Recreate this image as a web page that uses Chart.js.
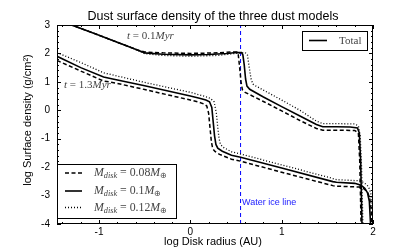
<!DOCTYPE html>
<html>
<head>
<meta charset="utf-8">
<script src="https://cdn.jsdelivr.net/npm/chart.js@4.4.0/dist/chart.umd.min.js"></script>
<style>
  html, body { margin: 0; padding: 0; background: #fff; }
  #wrap { width: 415px; height: 249px; }
</style>
</head>
<body>
<div id="wrap"><canvas id="chart" width="415" height="249"></canvas></div>
<script>
// axes: log r (AU) against log sigma (g/cm^2)
const xTicks = [-1, 0, 1, 2];
const yTicks = [3, 2, 1, 0, -1, -2, -3, -4];
const iceLineR = [0.55, 0.55];
const iceLineSig = [-4, 3];

// t = 0.1 Myr
const early08_r = [-1.46, -1.3, -1.0, -0.7, -0.58, -0.5, -0.3, 0, 0.3, 0.45, 0.51, 0.525, 0.54, 0.555, 0.57, 0.6, 0.8, 1.0, 1.2, 1.38, 1.45, 1.6, 1.8, 1.84, 1.855, 1.87];
const early08_sig = [3.2, 3.0, 2.64, 2.27, 2.12, 2.05, 2.02, 2.0, 2.02, 2.05, 2.05, 1.95, 1.5, 1.0, 0.72, 0.63, 0.31, -0.02, -0.36, -0.64, -0.7, -0.7, -0.71, -0.8, -1.8, -4.1];
const early10_r = [-1.46, -1.3, -1.0, -0.7, -0.58, -0.5, -0.3, 0, 0.2, 0.4, 0.5, 0.56, 0.575, 0.59, 0.605, 0.62, 0.65, 0.8, 1.0, 1.2, 1.38, 1.45, 1.6, 1.75, 1.83, 1.85, 1.865, 1.88];
const early10_sig = [3.2, 3.0, 2.64, 2.27, 2.12, 2.02, 1.97, 1.95, 1.96, 2.0, 2.03, 2.03, 1.95, 1.6, 1.1, 0.85, 0.74, 0.47, 0.13, -0.2, -0.5, -0.58, -0.58, -0.59, -0.62, -0.8, -1.8, -4.1];
const early12_r = [-1.46, -1.3, -1.0, -0.7, -0.58, -0.5, -0.3, 0, 0.3, 0.5, 0.6, 0.625, 0.645, 0.665, 0.685, 0.72, 0.8, 1.0, 1.2, 1.38, 1.45, 1.6, 1.8, 1.84, 1.86, 1.875, 1.89];
const early12_sig = [3.2, 3.0, 2.64, 2.27, 2.12, 1.99, 1.93, 1.9, 1.93, 2.0, 2.03, 1.95, 1.5, 1.1, 0.92, 0.85, 0.71, 0.36, 0.0, -0.38, -0.47, -0.47, -0.48, -0.55, -0.9, -2.0, -4.1];

// t = 1.3 Myr
const late08_r = [-1.46, -1.2, -0.95, -0.82, -0.5, 0, 0.1, 0.15, 0.18, 0.2, 0.215, 0.23, 0.245, 0.27, 0.32, 0.45, 0.55, 1.0, 1.56, 1.6, 1.85, 1.9, 1.94, 1.965, 1.98, 1.985];
const late08_sig = [1.75, 1.38, 1.03, 0.96, 0.73, 0.36, 0.28, 0.22, 0.15, -0.1, -0.6, -1.1, -1.35, -1.45, -1.55, -1.72, -1.79, -2.18, -2.65, -2.67, -2.7, -2.76, -2.88, -3.1, -3.5, -4.1];
const late10_r = [-1.46, -1.2, -0.95, -0.85, -0.5, 0, 0.1, 0.17, 0.21, 0.235, 0.25, 0.265, 0.28, 0.3, 0.35, 0.45, 0.55, 1.0, 1.56, 1.6, 1.8, 1.87, 1.91, 1.94, 1.96, 1.975];
const late10_sig = [1.9, 1.5, 1.17, 1.1, 0.86, 0.5, 0.42, 0.36, 0.3, 0.1, -0.4, -0.9, -1.2, -1.33, -1.44, -1.58, -1.65, -2.03, -2.51, -2.53, -2.57, -2.64, -2.74, -2.9, -3.2, -4.1];
const late12_r = [-1.46, -1.2, -0.95, -0.82, -0.5, 0, 0.15, 0.22, 0.26, 0.285, 0.3, 0.315, 0.33, 0.36, 0.45, 0.55, 1.0, 1.56, 1.6, 1.85, 1.9, 1.95, 1.975, 1.99, 2.0];
const late12_sig = [2.03, 1.68, 1.32, 1.22, 0.98, 0.63, 0.5, 0.42, 0.3, -0.1, -0.6, -1.0, -1.2, -1.3, -1.46, -1.54, -1.92, -2.4, -2.44, -2.48, -2.54, -2.68, -2.9, -3.3, -4.1];

const massLabels = ["0.08", "0.1", "0.12"];

function pts(xs, ys) {
  return xs.map((x, i) => ({ x: x, y: ys[i] }));
}

const styles = [
  { borderDash: [4, 2.5], borderWidth: 1.5 },
  { borderDash: [], borderWidth: 1.6 },
  { borderDash: [1, 2], borderWidth: 1.3 },
];

function curve(xs, ys, k) {
  return {
    data: pts(xs, ys),
    borderColor: "#000",
    borderWidth: styles[k].borderWidth,
    borderDash: styles[k].borderDash,
    pointRadius: 0,
    showLine: true,
    tension: 0,
    fill: false,
  };
}

function drawMath(ctx, parts, x, y, size) {
  let cx = x;
  parts.forEach((p) => {
    const fs = p.sub ? size * 0.7 : size;
    ctx.font = (p.it ? "italic " : "") + fs + "px 'Liberation Serif'";
    ctx.fillText(p.t, cx, p.sub ? y + size * 0.25 : y);
    cx += ctx.measureText(p.t).width;
  });
}

const decorations = {
  id: "decorations",
  afterDatasetsDraw(chart) {
    const { ctx, chartArea: a, scales } = chart;
    const xs = scales.x, ys = scales.y;
    ctx.save();
    ctx.strokeStyle = "#000";
    ctx.lineWidth = 1;
    ctx.setLineDash([]);
    ctx.strokeRect(a.left + 0.5, a.top + 0.5, a.right - a.left - 1, a.bottom - a.top - 1);

    // inward ticks on all four sides, minor every 0.2
    ctx.beginPath();
    for (let i = -7; i <= 10; i++) {
      const v = i / 5;
      const px = Math.round(xs.getPixelForValue(v)) + 0.5;
      const len = i % 5 === 0 ? 4 : 2;
      ctx.moveTo(px, a.bottom); ctx.lineTo(px, a.bottom - len);
      ctx.moveTo(px, a.top); ctx.lineTo(px, a.top + len);
    }
    for (let i = -20; i <= 15; i++) {
      const v = i / 5;
      const py = Math.round(ys.getPixelForValue(v)) + 0.5;
      const len = i % 5 === 0 ? 4 : 2;
      ctx.moveTo(a.left, py); ctx.lineTo(a.left + len, py);
      ctx.moveTo(a.right, py); ctx.lineTo(a.right - len, py);
    }
    ctx.stroke();
    ctx.restore();
  },
  afterDraw(chart) {
    const { ctx } = chart;
    ctx.save();
    ctx.fillStyle = "#000";
    ctx.textAlign = "center";
    ctx.textBaseline = "middle";
    ctx.font = "12.5px 'Liberation Sans'";
    ctx.fillText("Dust surface density of the three dust models", 213, 17);
    ctx.font = "11px 'Liberation Sans'";
    ctx.fillText("log Disk radius (AU)", 213, 242);
    ctx.save();
    ctx.translate(28, 120);
    ctx.rotate(-Math.PI / 2);
    ctx.fillText("log Surface density (g/cm\u00b2)", 0, 0);
    ctx.restore();

    // ice line label
    ctx.textAlign = "left";
    ctx.fillStyle = "#1a1aff";
    ctx.font = "9px 'Liberation Sans'";
    ctx.fillText("Water ice line", 242, 203);

    // time labels
    ctx.fillStyle = "#444";
    drawMath(ctx, [{ t: "t", it: true }, { t: " = 0.1" }, { t: "Myr", it: true }], 127, 36, 11);
    drawMath(ctx, [{ t: "t", it: true }, { t: " = 1.3" }, { t: "Myr", it: true }], 64, 85, 11);

    // legend: mass models
    ctx.fillStyle = "#fff";
    ctx.fillRect(57, 164, 120, 55);
    ctx.strokeStyle = "#000";
    ctx.lineWidth = 1;
    ctx.strokeRect(57.5, 164.5, 119, 54);
    const rows = [173, 191, 207.5];
    rows.forEach((ry, k) => {
      ctx.setLineDash(styles[k].borderDash);
      ctx.lineWidth = styles[k].borderWidth;
      ctx.beginPath();
      ctx.moveTo(65, ry); ctx.lineTo(82, ry);
      ctx.stroke();
      ctx.setLineDash([]);
      ctx.fillStyle = "#444";
      drawMath(ctx, [
        { t: "M", it: true }, { t: "disk", it: true, sub: true },
        { t: " = " + massLabels[k] }, { t: "M", it: true }, { t: "\u2295", sub: true },
      ], 94, ry, 11.8);
    });

    // legend: total
    ctx.fillStyle = "#fff";
    ctx.fillRect(302, 31, 66, 20);
    ctx.lineWidth = 1;
    ctx.strokeRect(302.5, 31.5, 65, 19);
    ctx.lineWidth = 1.6;
    ctx.beginPath();
    ctx.moveTo(309, 40.5); ctx.lineTo(327, 40.5);
    ctx.stroke();
    ctx.fillStyle = "#444";
    drawMath(ctx, [{ t: "Total" }], 339, 41, 11);
    ctx.restore();
  },
};

new Chart(document.getElementById("chart"), {
  type: "scatter",
  data: {
    datasets: [
      curve(early08_r, early08_sig, 0),
      curve(early10_r, early10_sig, 1),
      curve(early12_r, early12_sig, 2),
      curve(late08_r, late08_sig, 0),
      curve(late10_r, late10_sig, 1),
      curve(late12_r, late12_sig, 2),
      {
        data: pts(iceLineR, iceLineSig),
        borderColor: "#0000ff",
        borderWidth: 1,
        borderDash: [4, 3],
        pointRadius: 0,
        showLine: true,
      },
    ],
  },
  options: {
    responsive: false,
    animation: false,
    devicePixelRatio: 1,
    layout: { padding: { left: 0, right: 42, top: 25, bottom: 0 } },
    plugins: { legend: { display: false }, tooltip: { enabled: false } },
    scales: {
      x: {
        type: "linear",
        min: -1.46,
        max: 2,
        grid: { display: false, drawTicks: false },
        border: { display: false },
        afterBuildTicks: (scale) => { scale.ticks = xTicks.map((v) => ({ value: v })); },
        afterFit: (scale) => { scale.height = 25; },
        ticks: { color: "#000", padding: 2, font: { family: "'Liberation Sans'", size: 10 } },
      },
      y: {
        type: "linear",
        min: -4,
        max: 3,
        grid: { display: false, drawTicks: false },
        border: { display: false },
        afterBuildTicks: (scale) => { scale.ticks = yTicks.map((v) => ({ value: v })); },
        afterFit: (scale) => { scale.width = 57; },
        ticks: { color: "#000", padding: 7, font: { family: "'Liberation Sans'", size: 10 } },
      },
    },
  },
  plugins: [decorations],
});
</script>
</body>
</html>
